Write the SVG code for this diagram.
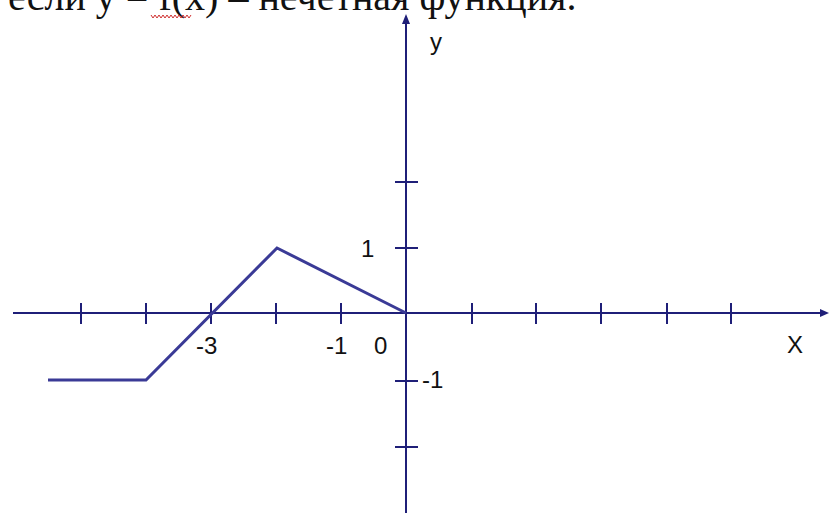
<svg xmlns="http://www.w3.org/2000/svg" width="830" height="513" viewBox="0 0 830 513">
<style>
.ax{stroke:#1f1f78;stroke-width:2;fill:none}
.tk{stroke:#1f1f78;stroke-width:2}
.fn{stroke:#3a3a96;stroke-width:3;fill:none;stroke-linejoin:miter}
.lb{font-family:"Liberation Sans",Arial,sans-serif;font-size:24px;fill:#111}
.tt{font-family:"Liberation Serif","Times New Roman",serif;font-size:40px;fill:#111}
</style>
<rect width="830" height="513" fill="#ffffff"/>
<g id="title">
<text class="tt" x="8" y="10">если y = f(x) – нечетная функция.</text>
<path d="M151,15 l2,3 l2,-3 l2,3 l2,-3 l2,3 l2,-3 l2,3 l2,-3 l2,3 l2,-3 l2,3 l2,-3 l2,3 l2,-3 l2,3 l2,-3 l2,3 l2,-3 l2,3 l2,-3" stroke="#d03030" stroke-width="1" fill="none"/>
</g>
<g id="axes">
<line class="ax" x1="13" y1="313" x2="821" y2="313"/>
<polygon points="829,313 820,309 820,317" fill="#1f1f78"/>
<line class="ax" x1="406" y1="513" x2="406" y2="23"/>
<polygon points="406,14 402,24 410,24" fill="#1f1f78"/>
</g>
<g id="ticks">
<line class="tk" x1="81" y1="303" x2="81" y2="324"/>
<line class="tk" x1="146" y1="303" x2="146" y2="324"/>
<line class="tk" x1="211" y1="303" x2="211" y2="324"/>
<line class="tk" x1="276" y1="303" x2="276" y2="324"/>
<line class="tk" x1="341" y1="303" x2="341" y2="324"/>
<line class="tk" x1="472" y1="303" x2="472" y2="324"/>
<line class="tk" x1="536" y1="303" x2="536" y2="324"/>
<line class="tk" x1="601" y1="303" x2="601" y2="324"/>
<line class="tk" x1="667" y1="303" x2="667" y2="324"/>
<line class="tk" x1="731" y1="303" x2="731" y2="324"/>
<line class="tk" x1="395" y1="182" x2="418" y2="182"/>
<line class="tk" x1="395" y1="248" x2="418" y2="248"/>
<line class="tk" x1="395" y1="381" x2="418" y2="381"/>
<line class="tk" x1="395" y1="447" x2="418" y2="447"/>
</g>
<g id="graph">
<polyline class="fn" points="48,380 146,380 277,248 406,313"/>
</g>
<g id="labels">
<text class="lb" x="196" y="354">-3</text>
<text class="lb" x="326" y="354">-1</text>
<text class="lb" x="374" y="354">0</text>
<text class="lb" x="787" y="353">X</text>
<text class="lb" x="361" y="257">1</text>
<text class="lb" x="422" y="388">-1</text>
<text class="lb" x="430" y="50">y</text>
</g>
</svg>
